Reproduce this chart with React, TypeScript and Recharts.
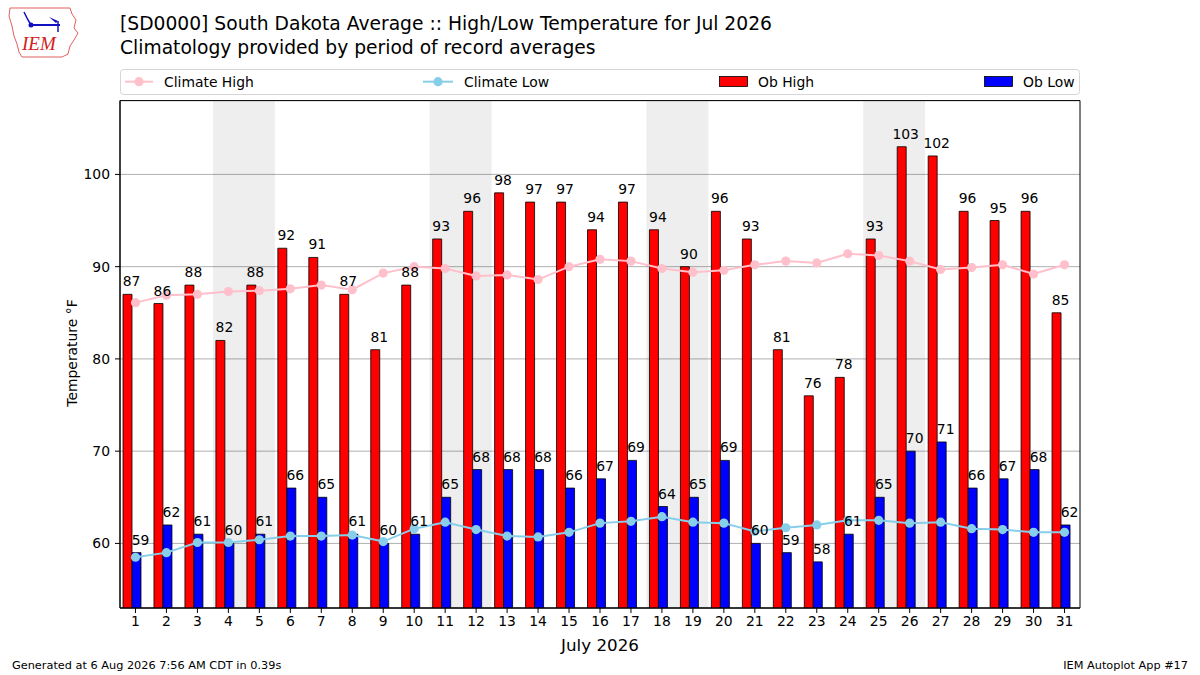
import React from 'react';
import {
  ComposedChart,
  Bar,
  Line,
  XAxis,
  YAxis,
  CartesianGrid,
  ReferenceArea,
  LabelList,
  Legend,
  Label,
} from 'recharts';

// ---------- data ----------
const days = [
  1, 2, 3, 4, 5, 6, 7, 8, 9, 10, 11, 12, 13, 14, 15, 16,
  17, 18, 19, 20, 21, 22, 23, 24, 25, 26, 27, 28, 29, 30, 31,
];
const obHigh = [
  87, 86, 88, 82, 88, 92, 91, 87, 81, 88, 93, 96, 98, 97, 97, 94,
  97, 94, 90, 96, 93, 81, 76, 78, 93, 103, 102, 96, 95, 96, 85,
];
const obLow = [
  59, 62, 61, 60, 61, 66, 65, 61, 60, 61, 65, 68, 68, 68, 66, 67,
  69, 64, 65, 69, 60, 59, 58, 61, 65, 70, 71, 66, 67, 68, 62,
];
const climHigh = [
  86.1, 86.9, 87.0, 87.3, 87.4, 87.6, 88.0, 87.5, 89.3, 90.0, 89.8, 89.0, 89.1, 88.6, 90.0, 90.8,
  90.6, 89.8, 89.4, 89.6, 90.2, 90.6, 90.4, 91.4, 91.2, 90.6, 89.7, 89.9, 90.2, 89.2, 90.2,
];
const climLow = [
  58.5, 59.0, 60.1, 60.1, 60.4, 60.8, 60.8, 60.9, 60.2, 61.6, 62.3, 61.5, 60.8, 60.7, 61.2, 62.2,
  62.4, 62.9, 62.3, 62.2, 61.3, 61.7, 62.0, 62.5, 62.5, 62.2, 62.3, 61.6, 61.5, 61.2, 61.2,
];
const weekendStarts = [4, 11, 18, 25];
const weekendEnds = [5, 12, 19, 26];
const yTicks = [60, 70, 80, 90, 100];
const yDomain = [53, 108];

const titleLine1 = '[SD0000] South Dakota Average :: High/Low Temperature for Jul 2026';
const titleLine2 = 'Climatology provided by period of record averages';
const footerLeft = 'Generated at 6 Aug 2026 7:56 AM CDT in 0.39s';
const footerRight = 'IEM Autoplot App #17';
const xAxisTitle = 'July 2026';
const yAxisTitle = 'Temperature °F';
const legendNames = ['Climate High', 'Climate Low', 'Ob High', 'Ob Low'];

const data = days.map((d, i) => ({
  day: d,
  obHigh: obHigh[i],
  obLow: obLow[i],
  climHigh: climHigh[i],
  climLow: climLow[i],
}));

// ---------- styles ----------
const FONT = '"DejaVu Sans", sans-serif';
const RED = '#ff0000';
const BLUE = '#0000ff';
const PINK = '#ffc0cb';
const SKY = '#87ceeb';

const barLabel = (props: any) => {
  const { x, y, width, value } = props;
  if (value == null) return null;
  return (
    <text
      x={Number(x) + Number(width) - 0.5}
      y={Number(y) - 8}
      textAnchor="middle"
      fontSize={13.9}
      fontFamily={FONT}
      fill="#000"
    >
      {value}
    </text>
  );
};

const renderLegend = () => {
  const textY = 17.8;
  return (
    <svg width={960} height={27} style={{ display: 'block', overflow: 'visible' }}>
      <rect x={0.5} y={0.5} width={959} height={25} rx={3} ry={3} fill="#ffffff" stroke="#d6d6d6" strokeWidth={1} />
      <line x1={5} x2={33} y1={12.7} y2={12.7} stroke={PINK} strokeWidth={2} />
      <circle cx={19} cy={12.7} r={4.6} fill={PINK} />
      <text x={44} y={textY} fontSize={13.9} fontFamily={FONT} fill="#000">{legendNames[0]}</text>
      <line x1={303} x2={333} y1={12.7} y2={12.7} stroke={SKY} strokeWidth={2} />
      <circle cx={318} cy={12.7} r={4.6} fill={SKY} />
      <text x={344} y={textY} fontSize={13.9} fontFamily={FONT} fill="#000">{legendNames[1]}</text>
      <rect x={599.5} y={7.5} width={28} height={10} fill={RED} stroke="#000" strokeWidth={0.8} />
      <text x={638} y={textY} fontSize={13.9} fontFamily={FONT} fill="#000">{legendNames[2]}</text>
      <rect x={864.5} y={7.5} width={28} height={10} fill={BLUE} stroke="#000" strokeWidth={0.8} />
      <text x={903} y={textY} fontSize={13.9} fontFamily={FONT} fill="#000">{legendNames[3]}</text>
    </svg>
  );
};

const Logo = () => (
  <g>
    <path
      d="M10,8 L70,8 L72,14 L76,20 L74,28 L78,33 L74,40 L70,46 L68,54 L62,57 L22,57 L19,52 L17,44 L14,36 L12,26 L9,16 Z"
      fill="#ffffff"
      stroke="#e06060"
      strokeWidth={1}
    />
    <circle cx={31} cy={25} r={2.5} fill="#1010c0" />
    <line x1={31} y1={25} x2={60} y2={25} stroke="#1010c0" strokeWidth={2} />
    <path d="M49,17 L58,21 L56,23 Z" fill="#1010c0" />
    <line x1={58} y1={21} x2={58} y2={32} stroke="#1010c0" strokeWidth={1.5} />
    <path d="M24,12 L28,20 L31,25" fill="none" stroke="#1010c0" strokeWidth={1.5} />
    <text x={22} y={50} fontSize={19} fontStyle="italic" fontFamily='"Liberation Serif", serif' fill="#d02020">IEM</text>
  </g>
);

export default function App() {
  return (
    <div
      style={{
        position: 'fixed',
        left: 0,
        top: 0,
        width: 1200,
        height: 675,
        background: '#ffffff',
        fontFamily: FONT,
        overflow: 'hidden',
      }}
    >
      <div style={{ position: 'absolute', left: 0, top: 0 }}>
        <ComposedChart
          width={1200}
          height={675}
          data={data}
          margin={{ top: 100.6, right: 120, bottom: 37, left: 60 }}
          barGap={0}
          barCategoryGap={0}
          style={{ fontFamily: FONT }}
        >
          <CartesianGrid vertical={false} stroke="#b0b0b0" strokeWidth={1} />
          {weekendStarts.map((s, i) => (
            <ReferenceArea
              key={'we' + s}
              x1={s}
              x2={weekendEnds[i]}
              y1={yDomain[0]}
              y2={yDomain[1]}
              fill="#000000"
              fillOpacity={0.068}
              stroke="none"
              ifOverflow="visible"
            />
          ))}
          <XAxis
            dataKey="day"
            type="category"
            interval={0}
            height={30}
            tickSize={5}
            tickMargin={3}
            tick={{ fontSize: 13.9, fill: '#000', fontFamily: FONT }}
            tickLine={{ stroke: '#000' }}
            axisLine={{ stroke: '#000' }}
          >
            <Label
              content={() => (
                <text x={600} y={651} textAnchor="middle" fontSize={16.7} fontFamily={FONT} fill="#000">
                  {xAxisTitle}
                </text>
              )}
            />
          </XAxis>
          <YAxis
            type="number"
            domain={yDomain}
            ticks={yTicks}
            width={60}
            tickSize={5}
            tickMargin={5}
            allowDataOverflow
            tick={{ fontSize: 13.9, fill: '#000', fontFamily: FONT }}
            tickLine={{ stroke: '#000' }}
            axisLine={{ stroke: '#000' }}
          >
            <Label
              content={() => (
                <text
                  x={77}
                  y={353}
                  transform="rotate(-90 77 353)"
                  textAnchor="middle"
                  fontSize={13.9}
                  fontFamily={FONT}
                  fill="#000"
                >
                  {yAxisTitle}
                </text>
              )}
            />
          </YAxis>
          <Legend
            layout="horizontal"
            verticalAlign="middle"
            align="center"
            content={renderLegend}
            wrapperStyle={{ position: 'absolute', top: 69, left: 120, width: 960, height: 27 }}
          />
          <Bar dataKey="obHigh" name="Ob High" fill={RED} stroke="#000" strokeWidth={0.8} barSize={9} isAnimationActive={false}>
            <LabelList dataKey="obHigh" content={barLabel} />
          </Bar>
          <Bar dataKey="obLow" name="Ob Low" fill={BLUE} stroke="#000" strokeWidth={0.8} barSize={9} isAnimationActive={false}>
            <LabelList dataKey="obLow" content={barLabel} />
          </Bar>
          <Bar dataKey="spacer" fill="none" stroke="none" barSize={7} isAnimationActive={false} legendType="none" />
          <Line
            type="linear"
            dataKey="climHigh"
            name="Climate High"
            stroke={PINK}
            strokeWidth={2}
            dot={{ r: 4.6, fill: PINK, stroke: 'none' }}
            activeDot={false}
            isAnimationActive={false}
          />
          <Line
            type="linear"
            dataKey="climLow"
            name="Climate Low"
            stroke={SKY}
            strokeWidth={2}
            dot={{ r: 4.6, fill: SKY, stroke: 'none' }}
            activeDot={false}
            isAnimationActive={false}
          />
          <ReferenceArea
            x1={days[0]}
            x2={days[days.length - 1]}
            y1={yDomain[0]}
            y2={yDomain[1]}
            fill="none"
            stroke="#000"
            strokeWidth={1}
            ifOverflow="visible"
          />
        </ComposedChart>
      </div>
      <svg
        width={1200}
        height={675}
        style={{ position: 'absolute', left: 0, top: 0, pointerEvents: 'none' }}
      >
        <Logo />
        <text x={120} y={30} fontSize={18.7} fontFamily={FONT} fill="#000">{titleLine1}</text>
        <text x={120} y={53.5} fontSize={18.7} fontFamily={FONT} fill="#000">{titleLine2}</text>
        <text x={12} y={669} fontSize={11.3} fontFamily={FONT} fill="#000">{footerLeft}</text>
        <text x={1188} y={669} textAnchor="end" fontSize={11.3} fontFamily={FONT} fill="#000">{footerRight}</text>
      </svg>
    </div>
  );
}
